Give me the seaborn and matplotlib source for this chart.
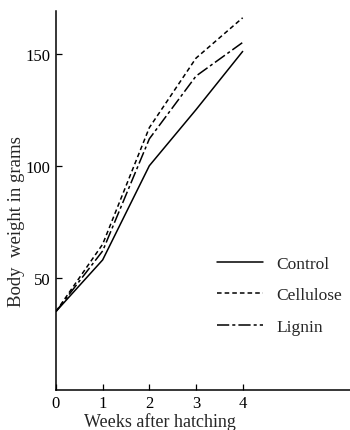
import matplotlib
matplotlib.use("Agg")
import matplotlib.pyplot as plt
from matplotlib.lines import Line2D
import seaborn as sns
import pandas as pd

weeks = [0, 1, 2, 3, 4]
control = [35, 58, 100, 125, 151]
cellulose = [35, 65, 117, 148, 166]
lignin = [35, 62, 112, 140, 155]
series_names = ["Control", "Cellulose", "Lignin"]
x_ticks = [0, 1, 2, 3, 4]
y_ticks = [50, 100, 150]

sns.set_theme(style="ticks")
plt.rcParams["font.family"] = ["Liberation Serif", "DejaVu Serif"]

df = pd.DataFrame({
    "week": weeks * 3,
    "weight": control + cellulose + lignin,
    "diet": [series_names[0]] * 5 + [series_names[1]] * 5 + [series_names[2]] * 5,
})

fig = plt.figure(figsize=(3.5, 4.31), dpi=100)
ax = fig.add_axes([0.16, 0.093, 0.84, 0.879])

dash_styles = {"Control": "", "Cellulose": (3, 2), "Lignin": (8, 2, 2, 2)}
sns.lineplot(data=df, x="week", y="weight", style="diet", dashes=dash_styles,
             color="black", linewidth=1.1, ax=ax, legend=False)

ax.set_xlim(0, 6.3)
ax.set_ylim(0, 169)
ax.set_xticks(x_ticks)
ax.set_yticks(y_ticks)
ax.tick_params(direction="in", length=4, width=0.9, labelsize=12, colors="black", pad=4)
for s in ["top", "right"]:
    ax.spines[s].set_visible(False)
for s in ["left", "bottom"]:
    ax.spines[s].set_linewidth(1.1)
    ax.spines[s].set_color("black")

ax.set_xlabel("Weeks after hatching", fontsize=13)
ax.xaxis.set_label_coords(0.354, -0.058)
ax.set_ylabel("Body  weight in grams", fontsize=13.5)
ax.yaxis.set_label_coords(-0.105, 0.446)

handles = [Line2D([], [], color="black", lw=1.1, linestyle="-"),
           Line2D([], [], color="black", lw=1.1, linestyle=(0, (3, 2))),
           Line2D([], [], color="black", lw=1.1, linestyle=(0, (8, 2, 2, 2)))]
ax.legend(handles, series_names, loc="upper left", bbox_to_anchor=(0.493, 0.396),
          frameon=False, fontsize=12.5, handlelength=2.7, handletextpad=0.75,
          labelspacing=0.9)

fig.savefig("out.png", dpi=100)
